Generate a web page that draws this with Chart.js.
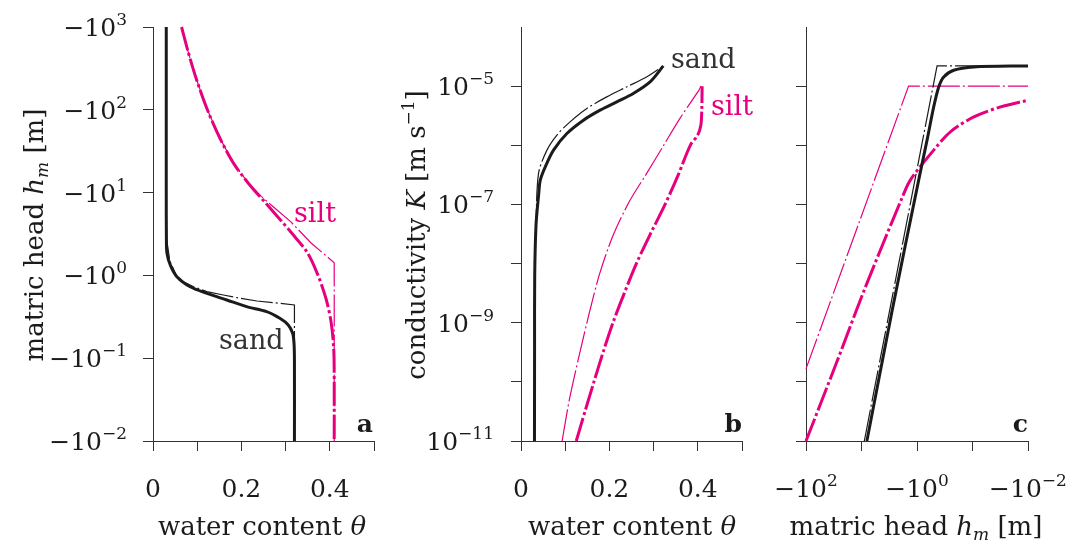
<!DOCTYPE html>
<html>
<head>
<meta charset="utf-8">
<script src="https://cdn.jsdelivr.net/npm/chart.js@4.4.1/dist/chart.umd.min.js"></script>
<style>
  html, body { margin: 0; padding: 0; background: #fff; }
  #wrap { position: relative; width: 1076px; height: 543px; }
  #wrap canvas { position: absolute; left: 0; top: 0; }
</style>
</head>
<body>
<div id="wrap">
  <canvas id="panelA" width="1076" height="543"></canvas>
  <canvas id="panelB" width="1076" height="543"></canvas>
  <canvas id="panelC" width="1076" height="543"></canvas>
</div>
<script>
// --- a: retention curves, water content vs matric head ---
var sandThetaVG = [0.030, 0.030, 0.030, 0.0303, 0.0316, 0.039, 0.054, 0.084, 0.122, 0.167, 0.212, 0.257, 0.287, 0.306, 0.316, 0.319, 0.320, 0.320];
var sandHeadVG  = [-1000, -100, -10, -2.7, -1.85, -1.34, -0.965, -0.73, -0.608, -0.505, -0.419, -0.365, -0.303, -0.252, -0.200, -0.152, -0.095, -0.01];
var sandThetaBC = [0.030, 0.030, 0.031, 0.038, 0.054, 0.070, 0.092, 0.122, 0.159, 0.197, 0.235, 0.272, 0.320, 0.320];
var sandHeadBC  = [-1000, -10, -2.7, -1.5, -0.965, -0.83, -0.73, -0.636, -0.58, -0.53, -0.491, -0.469, -0.44, -0.01];
var siltThetaVG = [0.0646, 0.0798, 0.0988, 0.123, 0.152, 0.182, 0.2166, 0.258, 0.289, 0.319, 0.350, 0.372, 0.391, 0.403, 0.409, 0.410, 0.410];
var siltHeadVG  = [-1000, -495, -229, -100, -44.7, -22.7, -12.8, -7.16, -4.64, -3.01, -1.86, -1.045, -0.533, -0.272, -0.126, -0.052, -0.01];
var siltThetaBC = [0.0646, 0.0798, 0.0988, 0.123, 0.152, 0.182, 0.2166, 0.245, 0.270, 0.312, 0.357, 0.410, 0.410];
var siltHeadBC  = [-1000, -495, -229, -100, -44.7, -22.7, -12.8, -9.0, -6.9, -4.43, -2.48, -1.42, -0.01];

// --- b: conductivity vs water content ---
var sandThetaKVG = [0.0305, 0.0307, 0.031, 0.034, 0.040, 0.0436, 0.0549, 0.0736, 0.1038, 0.1413, 0.179, 0.2167, 0.254, 0.292, 0.322];
var sandKVG      = [1e-11, 4.0e-10, 5.9e-9, 4.5e-8, 1.48e-7, 2.58e-7, 4.33e-7, 8.28e-7, 1.58e-6, 2.66e-6, 3.93e-6, 5.42e-6, 7.52e-6, 1.18e-5, 2.2e-5];
var sandThetaKBC = [0.0305, 0.0307, 0.031, 0.034, 0.0397, 0.0587, 0.0813, 0.111, 0.149, 0.194, 0.239, 0.284, 0.322];
var sandKBC      = [1e-11, 4.0e-10, 5.9e-9, 4.5e-8, 3.35e-7, 8.28e-7, 1.49e-6, 2.49e-6, 4.19e-6, 6.58e-6, 9.70e-6, 1.43e-5, 2.2e-5];
var siltThetaKVG = [0.125, 0.145, 0.165, 0.186, 0.208, 0.234, 0.261, 0.293, 0.326, 0.356, 0.383, 0.400, 0.407, 0.409, 0.4098];
var siltKVG      = [1e-11, 3.2e-11, 1e-10, 3.2e-10, 1e-9, 3.2e-9, 1e-8, 3.2e-8, 1e-7, 3.2e-7, 1e-6, 1.5e-6, 2.2e-6, 4e-6, 1e-5];
var siltThetaKBC = [0.093, 0.110, 0.1326, 0.155, 0.178, 0.208, 0.246, 0.284, 0.322, 0.360, 0.4015, 0.407];
var siltKBC      = [1e-11, 5.25e-11, 3.0e-10, 1.51e-9, 6.76e-9, 2.95e-8, 1.15e-7, 3.31e-7, 9.77e-7, 2.88e-6, 8.3e-6, 1e-5];

// --- c: conductivity vs matric head ---
var sandHeadKVG = [-8.0, -2.79, -0.933, -0.659, -0.50, -0.406, -0.330, -0.218, -0.0946, -0.01];
var sandKhVG    = [1e-11, 1.65e-9, 2.58e-7, 1.22e-6, 4.46e-6, 9.7e-6, 1.43e-5, 1.86e-5, 2.11e-5, 2.2e-5];
var sandHeadKBC = [-8.9, -0.435, -0.01];
var sandKhBC    = [1e-11, 2.2e-5, 2.2e-5];
var siltHeadKVG = [-100, -27.9, -8.59, -1.86, -1.32, -0.50, -0.25, -0.0946, -0.0312, -0.01];
var siltKhVG    = [1e-11, 2.16e-10, 3.91e-9, 1.29e-7, 2.58e-7, 8.28e-7, 1.69e-6, 3.02e-6, 4.46e-6, 5.78e-6];
var siltHeadKBC = [-100, -1.42, -0.01];
var siltKhBC    = [1.66e-10, 1e-5, 1e-5];

// ticks
var thetaTicks = [0, 0.1, 0.2, 0.3, 0.4, 0.5];
var thetaLabelAt = [0, 0.2, 0.4];
var thetaLabels = ['0', '0.2', '0.4'];
var headTicksA = [-1000, -100, -10, -1, -0.1, -0.01];
var headExpA = ['3', '2', '1', '0', '\u22121', '\u22122'];
var headTicksC = [-100, -10, -1, -0.1, -0.01];
var headLabelAtC = [-100, -1, -0.01];
var headExpC = ['2', '0', '\u22122'];
var kTicks = [1e-5, 1e-6, 1e-7, 1e-8, 1e-9, 1e-10, 1e-11];
var kLabelAt = [1e-5, 1e-7, 1e-9, 1e-11];
var kExp = ['\u22125', '\u22127', '\u22129', '\u221211'];

var SERIF = '"DejaVu Serif", "Liberation Serif", serif';
var AXIS = '#333';
var INK = '#1b1b1b';
var PINK = '#e6007e';
var FS = 25;   // label size
var TS = 26;   // axis title size
var SUP = 17;  // exponent size
var THICK_DASH = [24, 3, 3, 3];
var THIN_DASH = [32, 3, 2, 3];

function pts(xs, ys, fy) {
  return xs.map(function (x, i) { return { x: x, y: fy ? fy(ys[i]) : ys[i] }; });
}
function suction(h) { return -h; }

function line(data, color, width, dash, tension) {
  return {
    data: data, showLine: true, pointRadius: 0, borderColor: color,
    borderWidth: width, borderDash: dash || [], tension: tension || 0,
    fill: false, clip: false
  };
}

function axis(type, min, max, ticks, size, reverse) {
  return {
    type: type, min: min, max: max, reverse: !!reverse,
    grid: { drawOnChartArea: false, drawTicks: true, tickLength: 10, color: AXIS, lineWidth: 1 },
    border: { display: true, color: AXIS, width: 1 },
    ticks: { display: false },
    afterBuildTicks: function (s) { s.ticks = ticks.map(function (v) { return { value: v }; }); },
    afterFit: function (s) { if (s.isHorizontal()) s.height = size; else s.width = size; }
  };
}

// draw a row of text pieces (plain, italic, raised, lowered)
function textRun(ctx, parts, x, y, align, rotate) {
  ctx.save();
  ctx.translate(x, y);
  if (rotate) ctx.rotate(-Math.PI / 2);
  var w = 0;
  parts.forEach(function (p) {
    p.font = (p.bold ? 'bold ' : '') + (p.it ? 'italic ' : '') + (p.s || FS) + 'px ' + SERIF;
    ctx.font = p.font;
    p.w = ctx.measureText(p.t).width;
    w += p.w;
  });
  var cx = align === 'center' ? -w / 2 : (align === 'right' ? -w : 0);
  ctx.textBaseline = 'alphabetic';
  ctx.textAlign = 'left';
  parts.forEach(function (p) {
    ctx.font = p.font;
    ctx.fillStyle = p.c || INK;
    ctx.fillText(p.t, cx, p.dy || 0);
    cx += p.w;
  });
  ctx.restore();
}

function pow(exp) {
  return [{ t: '\u221210' }, { t: exp, s: SUP, dy: -11 }];
}
function powPos(exp) {
  return [{ t: '10' }, { t: exp, s: SUP, dy: -11 }];
}
function headTitle() {
  return [{ t: 'matric head ', s: TS }, { t: 'h', it: true, s: TS }, { t: 'm', it: true, s: SUP, dy: 5 }, { t: ' [m]', s: TS }];
}
function thetaTitle() {
  return [{ t: 'water content ', s: TS }, { t: '\u03b8', it: true, s: TS }];
}

function makeChart(id, datasets, xs, ys, pad, drawText) {
  return new Chart(document.getElementById(id), {
    type: 'scatter',
    data: { datasets: datasets },
    options: {
      responsive: false, animation: false,
      layout: { padding: pad },
      plugins: { legend: { display: false }, tooltip: { enabled: false } },
      scales: { x: xs, y: ys }
    },
    plugins: [{ id: 'labels' + id, afterDraw: drawText }]
  });
}

// panel a
makeChart('panelA', [
  line(pts(sandThetaVG, sandHeadVG, suction), INK, 3, [], 0.3),
  line(pts(siltThetaVG, siltHeadVG, suction), PINK, 3, THICK_DASH, 0.3),
  line(pts(sandThetaBC, sandHeadBC, suction), INK, 1.2, THIN_DASH, 0),
  line(pts(siltThetaBC, siltHeadBC, suction), PINK, 1.2, THIN_DASH, 0)
],
  axis('linear', 0, 0.5, thetaTicks, 102),
  axis('logarithmic', 0.01, 1000, headTicksA.map(suction), 153),
  { left: 0, top: 27, right: 702, bottom: 0 },
  function (chart) {
    var ctx = chart.ctx, x = chart.scales.x, y = chart.scales.y;
    thetaLabelAt.forEach(function (v, i) {
      textRun(ctx, [{ t: thetaLabels[i] }], x.getPixelForValue(v), 497, 'center');
    });
    headTicksA.forEach(function (h, i) {
      textRun(ctx, pow(headExpA[i]), 127, y.getPixelForValue(-h) + 9, 'right');
    });
    textRun(ctx, thetaTitle(), 262, 535, 'center');
    textRun(ctx, headTitle(), 43, 235, 'center', true);
    textRun(ctx, [{ t: 'sand', c: '#333', s: 27 }], 219, 349, 'left');
    textRun(ctx, [{ t: 'silt', c: PINK, s: 27 }], 294, 222, 'left');
    textRun(ctx, [{ t: 'a', bold: true }], 373, 432, 'right');
  });

// panel b
makeChart('panelB', [
  line(pts(sandThetaKVG, sandKVG), INK, 3, [], 0.3),
  line(pts(siltThetaKVG, siltKVG), PINK, 3, THICK_DASH, 0.3),
  line(pts(sandThetaKBC, sandKBC), INK, 1.2, THIN_DASH, 0.3),
  line(pts(siltThetaKBC, siltKBC), PINK, 1.2, THIN_DASH, 0.3)
],
  axis('linear', 0, 0.5, thetaTicks, 102),
  axis('logarithmic', 1e-11, 1e-4, kTicks, 130),
  { left: 391, top: 27, right: 334, bottom: 0 },
  function (chart) {
    var ctx = chart.ctx, x = chart.scales.x, y = chart.scales.y;
    thetaLabelAt.forEach(function (v, i) {
      textRun(ctx, [{ t: thetaLabels[i] }], x.getPixelForValue(v), 497, 'center');
    });
    kLabelAt.forEach(function (k, i) {
      textRun(ctx, powPos(kExp[i]), 494, y.getPixelForValue(k) + 9, 'right');
    });
    textRun(ctx, thetaTitle(), 632, 535, 'center');
    textRun(ctx, [{ t: 'conductivity ', s: TS }, { t: 'K', it: true, s: TS }, { t: ' [m s', s: TS }, { t: '\u22121', s: SUP, dy: -11 }, { t: ']', s: TS }], 425, 235, 'center', true);
    textRun(ctx, [{ t: 'sand', c: '#333', s: 27 }], 671, 68, 'left');
    textRun(ctx, [{ t: 'silt', c: PINK, s: 27 }], 711, 115, 'left');
    textRun(ctx, [{ t: 'b', bold: true }], 742, 432, 'right');
  });

// panel c
makeChart('panelC', [
  line(pts(sandHeadKVG.map(suction), sandKhVG), INK, 3, [], 0.3),
  line(pts(siltHeadKVG.map(suction), siltKhVG), PINK, 3, THICK_DASH, 0.3),
  line(pts(sandHeadKBC.map(suction), sandKhBC), INK, 1.2, THIN_DASH, 0),
  line(pts(siltHeadKBC.map(suction), siltKhBC), PINK, 1.2, THIN_DASH, 0)
],
  axis('logarithmic', 0.01, 100, headTicksC.map(suction), 102, true),
  axis('logarithmic', 1e-11, 1e-4, kTicks, 50),
  { left: 756, top: 27, right: 48, bottom: 0 },
  function (chart) {
    var ctx = chart.ctx, x = chart.scales.x;
    headLabelAtC.forEach(function (h, i) {
      textRun(ctx, pow(headExpC[i]), x.getPixelForValue(-h), 497, 'center');
    });
    textRun(ctx, headTitle(), 916, 535, 'center');
    textRun(ctx, [{ t: 'c', bold: true }], 1028, 432, 'right');
  });
</script>
</body>
</html>
